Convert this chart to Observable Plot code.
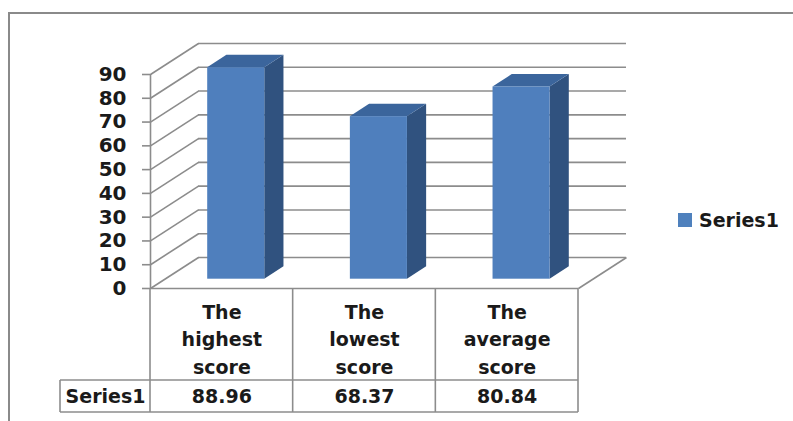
<!DOCTYPE html>
<html><head><meta charset="utf-8">
<script src="https://cdn.jsdelivr.net/npm/d3@7"></script>
<script src="https://cdn.jsdelivr.net/npm/@observablehq/plot@0.6"></script>
<style>
html,body{margin:0;padding:0;background:#fff;overflow:hidden;}
#wrap{position:relative;width:793px;height:421px;}
#wrap svg{position:absolute;left:0;top:0;background:none;}
#frame{position:absolute;left:8px;top:12px;width:800px;height:420px;border-left:2px solid #8a8a8a;border-top:2px solid #8a8a8a;}
#legend{position:absolute;left:678px;top:209px;font:bold 19px "DejaVu Sans";color:#1a1a1a;display:flex;align-items:center;}
#legend .sw{width:14px;height:14px;background:#4F81BD;margin-right:7px;display:inline-block;}
</style></head>
<body><div id="wrap"></div>
<script>
// ---- data ----
const categories = ["The highest score", "The lowest score", "The average score"];
const values = [88.96, 68.37, 80.84];
const seriesName = "Series1";
const yTicks = [0, 10, 20, 30, 40, 50, 60, 70, 80, 90];

// ---- layout / style ----
const W = 793, H = 421;
const X0 = 150, X1 = 578;      // front plane horizontal extent
const Y0 = 288, YTOP = 74;     // front plane: value 0 and value 90
const DEPTH_X = 48, DEPTH_Y = 31; // oblique depth offset in px
const ROW1 = 380, ROW2 = 412, HEAD_LEFT = 60;
const F0 = 0.3, F1 = 0.7;      // bar depth span
const GAP = 0.3;               // bar inset within band
const FRONT = "#4F7FBD", SIDE = "#30527F", TOP = "#3B659C";
const GRID = "#8c8c8c", TEXT = "#1a1a1a";
const FS = 19;

const DXU = DEPTH_X / ((X1 - X0) / categories.length);
const DYU = DEPTH_Y / ((Y0 - YTOP) / 90);

const bars = categories.map((c, i) => ({c, i, v: values[i]}));
const sideData = bars.flatMap(d => [F0, F1].map(f => ({i: d.i, x: d.i + 1 - GAP + f * DXU, y1: f * DYU, y2: d.v + f * DYU})));
const topData = bars.flatMap(d => [F0, F1].map(f => ({i: d.i, y: d.v + f * DYU, x1: d.i + GAP + f * DXU, x2: d.i + 1 - GAP + f * DXU})));

function tableGrid(index, scales) {
  const x = scales.x;
  const g = d3.create("svg:g").attr("stroke", GRID).attr("stroke-width", 1.6).attr("fill", "none");
  const line = (a, b, c, d) => g.append("line").attr("x1", a).attr("y1", b).attr("x2", c).attr("y2", d);
  const xs = d3.range(categories.length + 1).map(i => x(i));
  xs.forEach(px => line(px, Y0, px, ROW2));
  line(HEAD_LEFT, ROW1, xs[xs.length - 1], ROW1);
  line(HEAD_LEFT, ROW2, xs[xs.length - 1], ROW2);
  line(HEAD_LEFT, ROW1, HEAD_LEFT, ROW2);
  return g.node();
}

const txt = {fontSize: FS, fontWeight: "bold", fill: TEXT, textAnchor: "middle", lineAnchor: "middle"};

const chart = Plot.plot({
  width: W, height: H,
  marginLeft: X0, marginRight: W - X1, marginTop: 0, marginBottom: H - Y0,
  x: {type: "linear", domain: [0, categories.length], range: [X0, X1], axis: null},
  y: {type: "linear", domain: [0, 90], range: [Y0, YTOP]},
  style: {fontFamily: "DejaVu Sans", fontWeight: "bold", fontSize: FS + "px", color: TEXT, background: "none"},
  marks: [
    // back wall gridlines
    Plot.ruleY(yTicks, {y: d => d + DYU, x1: DXU, x2: categories.length + DXU, stroke: GRID, strokeWidth: 1.6}),
    // side wall diagonals
    Plot.link(yTicks, {x1: 0, y1: d => d, x2: DXU, y2: d => d + DYU, stroke: GRID, strokeWidth: 1.6}),
    // floor right edge
    Plot.link([0], {x1: categories.length, y1: 0, x2: categories.length + DXU, y2: DYU, stroke: GRID, strokeWidth: 1.6}),
    // floor front edge
    Plot.ruleY([0], {x1: 0, x2: categories.length, stroke: GRID, strokeWidth: 1.6}),
    // front axis line
    Plot.ruleX([0], {y1: 0, y2: 90, stroke: GRID, strokeWidth: 1.6}),
    Plot.axisY(yTicks, {anchor: "left", tickSize: 8, tickPadding: 16, stroke: GRID, strokeWidth: 1.6, fill: TEXT, fontSize: FS + 1, fontWeight: "bold", label: null}),
    // bars
    Plot.areaY(sideData, {x: "x", y1: "y1", y2: "y2", z: "i", fill: SIDE}),
    Plot.areaX(topData, {y: "y", x1: "x1", x2: "x2", z: "i", fill: TOP}),
    Plot.rect(bars, {x1: d => d.i + GAP + F0 * DXU, x2: d => d.i + 1 - GAP + F0 * DXU, y1: d => F0 * DYU, y2: d => d.v + F0 * DYU, fill: FRONT}),
    // data table
    tableGrid,
    Plot.text(categories, {x: (d, i) => i + 0.5, frameAnchor: "bottom", dy: 49, text: d => d.split(" ").join("\n"), lineHeight: 1.45, ...txt}),
    Plot.text(values, {x: (d, i) => i + 0.5, frameAnchor: "bottom", dy: 108, text: d => d.toFixed(2), ...txt}),
    Plot.text([seriesName], {frameAnchor: "bottom-left", dx: (HEAD_LEFT - X0) / 2, dy: 108, text: d => d, ...txt})
  ]
});

const wrap = document.getElementById("wrap");
wrap.appendChild(chart);
const frame = document.createElement("div");
frame.id = "frame";
wrap.appendChild(frame);
const legend = document.createElement("div");
legend.id = "legend";
legend.innerHTML = `<span class="sw"></span><span>${seriesName}</span>`;
wrap.appendChild(legend);
</script>
</body></html>
